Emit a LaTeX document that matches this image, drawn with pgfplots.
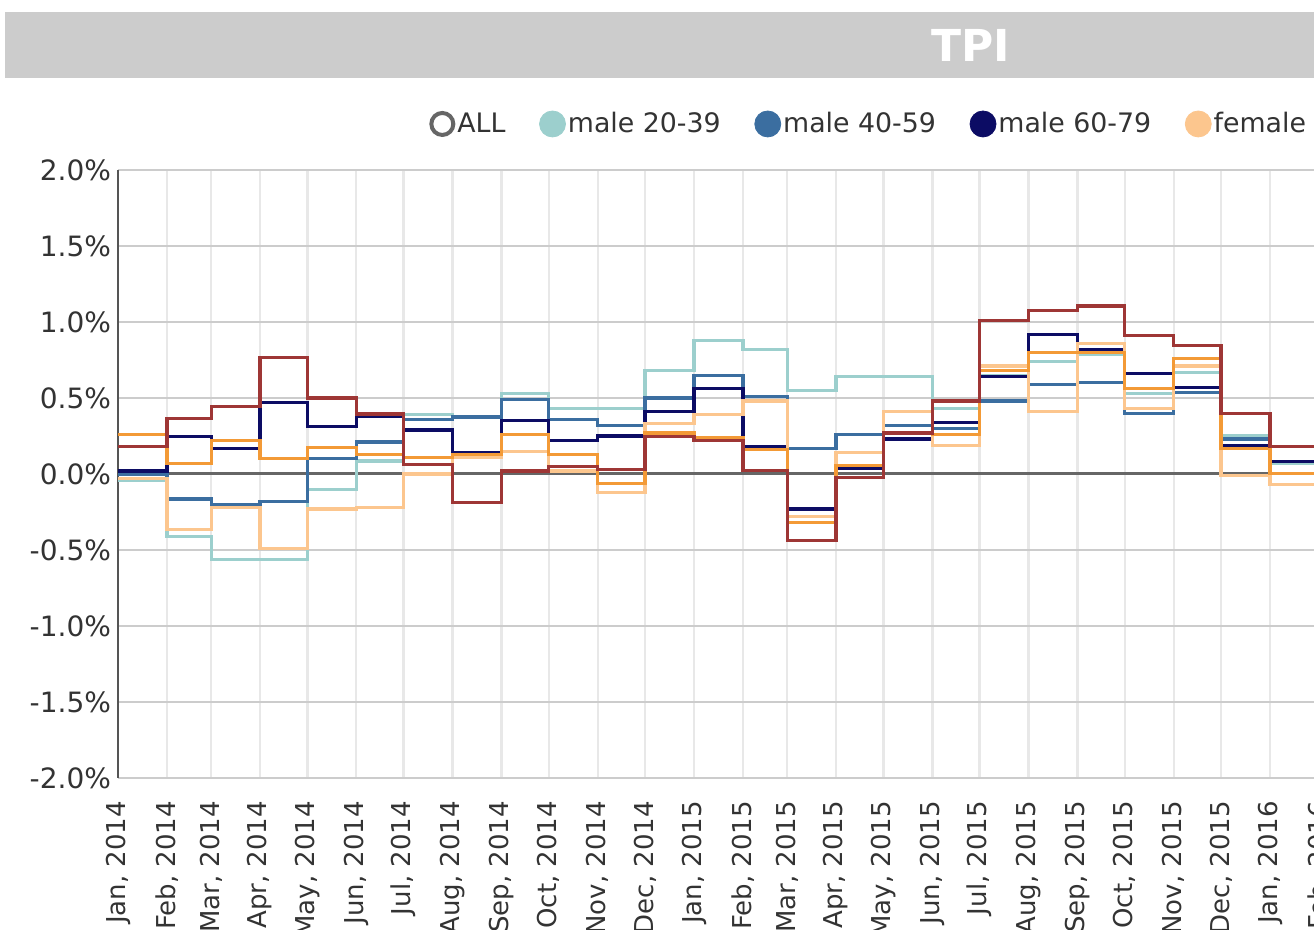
\documentclass[border=0pt]{standalone}
\usepackage{fontspec}
\setmainfont{DejaVu Sans}
\usepackage{pgfplots}
\usepackage{pgfplotstable}
\pgfplotsset{compat=1.18}
\definecolor{cA}{HTML}{9CCFCD}
\definecolor{cB}{HTML}{3B6EA0}
\definecolor{cC}{HTML}{0C0C64}
\definecolor{cD}{HTML}{FCC68E}
\definecolor{cE}{HTML}{F39A36}
\definecolor{cF}{HTML}{9E3635}
\definecolor{barbg}{HTML}{CCCCCC}
\definecolor{txt}{HTML}{333333}
\definecolor{hgrid}{HTML}{CCCCCC}
\definecolor{vgrid}{HTML}{E8E8E8}
\definecolor{zero}{HTML}{666666}
\definecolor{yax}{HTML}{555555}
\definecolor{allc}{HTML}{666666}
\pgfplotstableread{
day  m2039 m4059 m6079 f2039 f4059 f6079
0    -0.04  0.00  0.02 -0.03  0.26  0.18
31   -0.41 -0.165 0.245 -0.365 0.07 0.365
59   -0.56 -0.20  0.17 -0.22  0.22  0.445
90   -0.56 -0.18  0.47 -0.49  0.10  0.765
120  -0.10  0.10  0.31 -0.23  0.175 0.50
151   0.085 0.21  0.38 -0.22  0.13  0.395
181   0.39  0.36  0.29  0.00  0.11  0.06
212   0.38  0.375 0.14  0.11  0.13 -0.19
243   0.53  0.49  0.35  0.15  0.26  0.02
273   0.43  0.36  0.22  0.02  0.13  0.05
304   0.43  0.32  0.25 -0.12 -0.06  0.03
334   0.68  0.50  0.41  0.33  0.27  0.245
365   0.88  0.65  0.56  0.39  0.24  0.22
396   0.82  0.51  0.18  0.48  0.16  0.025
424   0.55  0.17 -0.23 -0.28 -0.32 -0.44
455   0.64  0.26  0.04  0.14  0.055 -0.025
485   0.64  0.32  0.23  0.41  0.27  0.27
516   0.43  0.30  0.34  0.19  0.26  0.48
546   0.65  0.48  0.64  0.71  0.68  1.01
577   0.74  0.59  0.92  0.41  0.80  1.075
608   0.79  0.60  0.82  0.86  0.80  1.105
638   0.53  0.40  0.66  0.43  0.56  0.91
669   0.67  0.535 0.57  0.71  0.76  0.845
699   0.25  0.23  0.19 -0.01  0.17  0.40
730   0.07  0.08  0.08 -0.07  0.005 0.18
761   0.07  0.08  0.08 -0.07  0.005 0.18
}\data
\begin{document}
\begin{tikzpicture}
\useasboundingbox (0,0) rectangle (657pt,465pt);
\clip (0,0) rectangle (657pt,465pt);
\fill[barbg] (2.5pt,426pt) rectangle (720pt,459pt);
\node[text=white, font=\bfseries\fontsize{22}{22}\selectfont] at (485.5pt,442.5pt) {TPI};
\begin{axis}[
  at={(59pt,76pt)}, anchor=south west, scale only axis,
  width=623.35pt, height=304pt,
  xmin=0, xmax=790, ymin=-2, ymax=2,
  axis line style={draw=none},
  major tick length=0pt,
  grid=major,
  x grid style={draw=vgrid, line width=1.2pt},
  y grid style={draw=hgrid, line width=1pt},
  xtick={0,31,59,90,120,151,181,212,243,273,304,334,365,396,424,455,485,516,546,577,608,638,669,699,730,761},
  xticklabels={{Jan, 2014},{Feb, 2014},{Mar, 2014},{Apr, 2014},{May, 2014},{Jun, 2014},{Jul, 2014},{Aug, 2014},{Sep, 2014},{Oct, 2014},{Nov, 2014},{Dec, 2014},{Jan, 2015},{Feb, 2015},{Mar, 2015},{Apr, 2015},{May, 2015},{Jun, 2015},{Jul, 2015},{Aug, 2015},{Sep, 2015},{Oct, 2015},{Nov, 2015},{Dec, 2015},{Jan, 2016},{Feb, 2016}},
  extra x ticks={0},
  extra x tick labels={\empty},
  extra x tick style={grid=major, major grid style={draw=yax, line width=1pt}, x grid style={draw=yax, line width=1pt}},
  ytick={-2,-1.5,-1,-0.5,0.5,1,1.5,2},
  yticklabels={-2.0\%,-1.5\%,-1.0\%,-0.5\%,0.5\%,1.0\%,1.5\%,2.0\%},
  extra y ticks={0},
  extra y tick labels={0.0\%},
  extra y tick style={grid=major, major grid style={draw=zero, line width=1.5pt}, y grid style={draw=zero, line width=1.5pt}},
  x tick label style={rotate=90, anchor=east, xshift=-8pt, font=\fontsize{13}{15}\selectfont, text=txt},
  y tick label style={font=\fontsize{14}{16}\selectfont, text=txt},
  legend columns=-1,
  legend style={at={(0.2494,1.0757)}, anchor=west, draw=none, fill=none, inner sep=0pt,
    font=\fontsize{13.4}{15}\selectfont, text=txt,
    nodes={inner xsep=1pt, inner ysep=1pt},
    /tikz/every even column/.append style={column sep=15.8pt}},
]
\addlegendimage{legend image code/.code={\draw[allc, line width=2pt] (6.5pt,0pt) circle (5.5pt);}}
\addlegendentry{ALL}
\addlegendimage{legend image code/.code={\fill[cA] (6.5pt,0pt) circle (6.5pt);}}
\addlegendentry{male 20-39}
\addlegendimage{legend image code/.code={\fill[cB] (6.5pt,0pt) circle (6.5pt);}}
\addlegendentry{male 40-59}
\addlegendimage{legend image code/.code={\fill[cC] (6.5pt,0pt) circle (6.5pt);}}
\addlegendentry{male 60-79}
\addlegendimage{legend image code/.code={\fill[cD] (6.5pt,0pt) circle (6.5pt);}}
\addlegendentry{female 20-39}
\addlegendimage{legend image code/.code={\fill[cE] (6.5pt,0pt) circle (6.5pt);}}
\addlegendentry{female 40-59}
\addlegendimage{legend image code/.code={\fill[cF] (6.5pt,0pt) circle (6.5pt);}}
\addlegendentry{female 60-79}
\addplot[const plot, cA, line width=1.6pt, forget plot] table[x=day,y=m2039]{\data};
\addplot[const plot, cB, line width=1.6pt, forget plot] table[x=day,y=m4059]{\data};
\addplot[const plot, cC, line width=1.6pt, forget plot] table[x=day,y=m6079]{\data};
\addplot[const plot, cD, line width=1.6pt, forget plot] table[x=day,y=f2039]{\data};
\addplot[const plot, cE, line width=1.6pt, forget plot] table[x=day,y=f4059]{\data};
\addplot[const plot, cF, line width=1.6pt, forget plot] table[x=day,y=f6079]{\data};
\end{axis}
\end{tikzpicture}
\end{document}
